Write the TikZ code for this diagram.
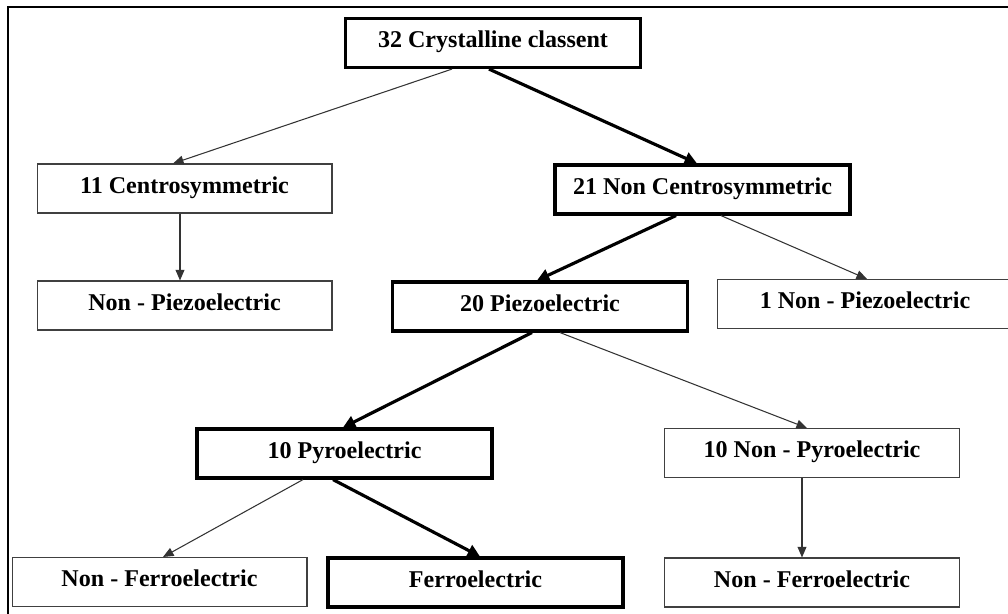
\documentclass[tikz,border=0pt]{standalone}
\usepackage{fontspec}
\setmainfont{Liberation Serif}
\usetikzlibrary{arrows.meta,calc}

\begin{document}
\begin{tikzpicture}[x=0.02cm,y=-0.02cm,
  font=\fontsize{13.7}{16}\selectfont\bfseries,
  box/.style={draw=black!75,line width=0.6pt,minimum width=5.9cm,minimum height=0.98cm,
    inner sep=0pt,text height=0.34cm,text depth=0.16cm},
  boldbox/.style={box,draw=black,line width=1.8pt},
  thin/.style={draw=black!80,line width=0.6pt,-{Triangle[length=6pt,width=5pt]}},
  thick/.style={draw=black,line width=1.8pt,-{Triangle[length=7pt,width=7pt]}}]
\useasboundingbox (0,0) rectangle (1008,613);
\draw[line width=1.2pt] (8,7) rectangle (1030,640);
% boxes
\node[boldbox] (crys) at (493,43) {32 Crystalline classent};
\node[box] (centro) at (184.5,188.5) {11 Centrosymmetric};
\node[boldbox] (noncentro) at (702.5,189.5) {21 Non Centrosymmetric};
\node[box] (nonpiezoL) at (184.5,305.5) {Non - Piezoelectric};
\node[boldbox] (piezo) at (540,306.5) {20 Piezoelectric};
\node[box] (nonpiezoR) at (865,304) {1 Non - Piezoelectric};
\node[boldbox] (pyro) at (344.5,453.5) {10 Pyroelectric};
\node[box] (nonpyro) at (812,453) {10 Non - Pyroelectric};
\node[box] (nonferroL) at (159.5,582) {Non - Ferroelectric};
\node[boldbox] (ferro) at (475.5,582.5) {Ferroelectric};
\node[box] (nonferroR) at (812,582.5) {Non - Ferroelectric};
% arrows
\draw[thin] ($(crys.south)+(-41,0)$) -- ($(centro.north)+(-11.5,0)$);
\draw[thick] ($(crys.south)+(-4,0)$) -- ($(noncentro.north)+(-5.5,0)$);
\draw[thin] ($(centro.south)+(-4.5,0)$) -- ($(nonpiezoL.north)+(-4.5,0)$);
\draw[thick] ($(noncentro.south)+(-26.5,0)$) -- ($(piezo.north)+(-3,0)$);
\draw[thin] ($(noncentro.south)+(18.5,0)$) -- ($(nonpiezoR.north)+(2,0)$);
\draw[thick] ($(piezo.south)+(-8,0)$) -- ($(pyro.north)+(-1.5,0)$);
\draw[thin] ($(piezo.south)+(20,0)$) -- ($(nonpyro.north)+(-5,0)$);
\draw[thin] ($(pyro.south)+(-41.5,0)$) -- ($(nonferroL.north)+(3.5,0)$);
\draw[thick] ($(pyro.south)+(-11.5,0)$) -- ($(ferro.north)+(4.5,0)$);
\draw[thin] ($(nonpyro.south)+(-10,0)$) -- ($(nonferroR.north)+(-10,0)$);
\end{tikzpicture}
\end{document}
